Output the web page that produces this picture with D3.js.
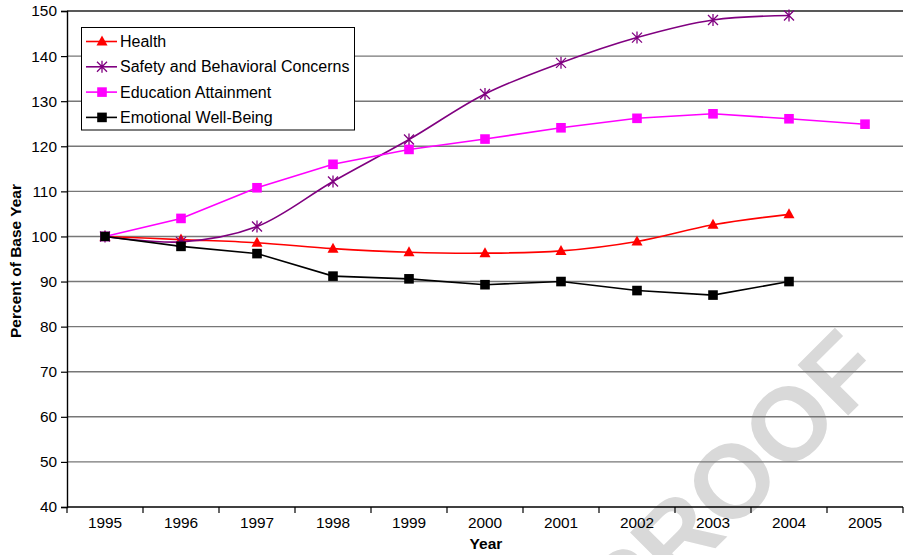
<!DOCTYPE html>
<html>
<head>
<meta charset="utf-8">
<script src="https://cdn.jsdelivr.net/npm/d3@7"></script>
<style>
  html, body { margin: 0; padding: 0; background: #fff; }
  svg { display: block; font-family: "Liberation Sans", Arial, Helvetica, sans-serif; }
</style>
</head>
<body>
<svg id="chart" width="904" height="555"></svg>
<script>
// Index values (base year 1995 = 100)
const years = ["1995", "1996", "1997", "1998", "1999", "2000", "2001", "2002", "2003", "2004", "2005"];
const health = [100, 99.3, 98.6, 97.3, 96.5, 96.3, 96.8, 98.9, 102.6, 104.9];
const safety = [100, 98.8, 102.2, 112.2, 121.5, 131.6, 138.5, 144.1, 148.0, 149.0];
const education = [100, 104.0, 110.8, 116.0, 119.3, 121.6, 124.1, 126.2, 127.2, 126.1, 124.9];
const emotional = [100, 97.8, 96.2, 91.2, 90.6, 89.3, 90.0, 88.0, 87.0, 90.0];
const yTicks = [40, 50, 60, 70, 80, 90, 100, 110, 120, 130, 140, 150];

const seriesList = [
  { name: "Health", values: health, color: "#ff0000", marker: "triangle", smooth: true },
  { name: "Safety and Behavioral Concerns", values: safety, color: "#800080", marker: "star", smooth: true },
  { name: "Education Attainment", values: education, color: "#ff00ff", marker: "square", smooth: false },
  { name: "Emotional Well-Being", values: emotional, color: "#000000", marker: "square", smooth: false }
];

const svg = d3.select("#chart");
const plotLeft = 67, plotRight = 903, plotTop = 11, plotBottom = 507;

const x = d3.scaleBand().domain(years).range([plotLeft, plotRight]);
const y = d3.scaleLinear().domain([40, 150]).range([plotBottom, plotTop]);
const cx = d => x(d) + x.bandwidth() / 2;

// PROOF stamp behind the plot
svg.append("text")
  .attr("transform", "translate(738,487) rotate(-45)")
  .attr("text-anchor", "middle")
  .attr("dominant-baseline", "middle")
  .attr("font-size", 104)
  .attr("font-weight", "bold")
  .attr("fill", "#d9d9d9")
  .text("PROOF");

// horizontal gridlines
svg.append("g")
  .selectAll("line")
  .data(yTicks.filter(t => t > 40))
  .join("line")
  .attr("x1", plotLeft).attr("x2", plotRight)
  .attr("y1", d => y(d)).attr("y2", d => y(d))
  .attr("stroke", d => d === 150 ? "#222" : "#777")
  .attr("stroke-width", 1.4);

// value axis
const yAxis = d3.axisLeft(y).tickValues(yTicks).tickSize(6).tickPadding(4).tickFormat(d3.format("d"));
const gy = svg.append("g").attr("transform", `translate(${plotLeft},0)`).call(yAxis);
gy.select(".domain").attr("stroke", "#000").attr("stroke-width", 1.4);
gy.selectAll(".tick line").attr("stroke", "#000").attr("stroke-width", 1.2);
gy.selectAll(".tick text").attr("font-size", 15.4).attr("fill", "#000")
  .attr("font-family", "'Liberation Sans', Arial, sans-serif");

// category axis: ticks sit on the band boundaries
const gx = svg.append("g").attr("transform", `translate(0,${plotBottom})`);
gx.append("line").attr("x1", plotLeft).attr("x2", plotRight).attr("y1", 0).attr("y2", 0)
  .attr("stroke", "#000").attr("stroke-width", 1.6);
gx.selectAll("line.tk")
  .data(years.concat(["end"]))
  .join("line").attr("class", "tk")
  .attr("x1", (d, i) => plotLeft + i * x.bandwidth())
  .attr("x2", (d, i) => plotLeft + i * x.bandwidth())
  .attr("y1", 0).attr("y2", 6)
  .attr("stroke", "#000").attr("stroke-width", 1.2);
gx.selectAll("text")
  .data(years)
  .join("text")
  .attr("x", d => cx(d))
  .attr("y", 21)
  .attr("text-anchor", "middle")
  .attr("font-size", 15.4)
  .attr("fill", "#000")
  .text(d => d);

// axis titles
svg.append("text")
  .attr("x", (plotLeft + plotRight) / 2 + 1).attr("y", 549)
  .attr("text-anchor", "middle")
  .attr("font-size", 15.5).attr("font-weight", "bold")
  .text("Year");
svg.append("text")
  .attr("transform", "translate(21,261) rotate(-90)")
  .attr("text-anchor", "middle")
  .attr("font-size", 15.5).attr("font-weight", "bold")
  .text("Percent of Base Year");

// marker shapes
function drawMarker(g, type, color, px, py) {
  if (type === "triangle") {
    g.append("path")
      .attr("d", `M${px},${py - 6}L${px + 5.5},${py + 4}L${px - 5.5},${py + 4}Z`)
      .attr("fill", color);
  } else if (type === "square") {
    g.append("rect")
      .attr("x", px - 4.8).attr("y", py - 4.8)
      .attr("width", 9.6).attr("height", 9.6)
      .attr("fill", color);
  } else if (type === "star") {
    const r = 5;
    g.append("path")
      .attr("d", `M${px - r},${py - r}L${px + r},${py + r}M${px - r},${py + r}L${px + r},${py - r}M${px},${py - r - 1}L${px},${py + r + 1}`)
      .attr("stroke", color).attr("stroke-width", 1.3).attr("fill", "none");
  }
}

// series lines and markers
const plot = svg.append("g");
seriesList.forEach(s => {
  const pts = s.values.map((v, i) => [cx(years[i]), y(v)]);
  const line = d3.line().curve(s.smooth ? d3.curveCatmullRom.alpha(0.5) : d3.curveLinear);
  const g = plot.append("g");
  g.append("path")
    .attr("d", line(pts))
    .attr("fill", "none")
    .attr("stroke", s.color)
    .attr("stroke-width", 1.6);
  pts.forEach(p => drawMarker(g, s.marker, s.color, p[0], p[1]));
});

// legend
const lg = svg.append("g");
lg.append("rect")
  .attr("x", 81.5).attr("y", 27.5).attr("width", 273).attr("height", 102.5)
  .attr("fill", "#fff").attr("stroke", "#000").attr("stroke-width", 1);
seriesList.forEach((s, i) => {
  const ly = 41.5 + i * 25.3;
  lg.append("line").attr("x1", 86).attr("x2", 117).attr("y1", ly).attr("y2", ly)
    .attr("stroke", s.color).attr("stroke-width", 1.6);
  drawMarker(lg, s.marker, s.color, 102, ly);
  lg.append("text")
    .attr("x", 120).attr("y", ly + 5.5)
    .attr("font-size", 16)
    .attr("fill", "#000")
    .text(s.name);
});
</script>
</body>
</html>
